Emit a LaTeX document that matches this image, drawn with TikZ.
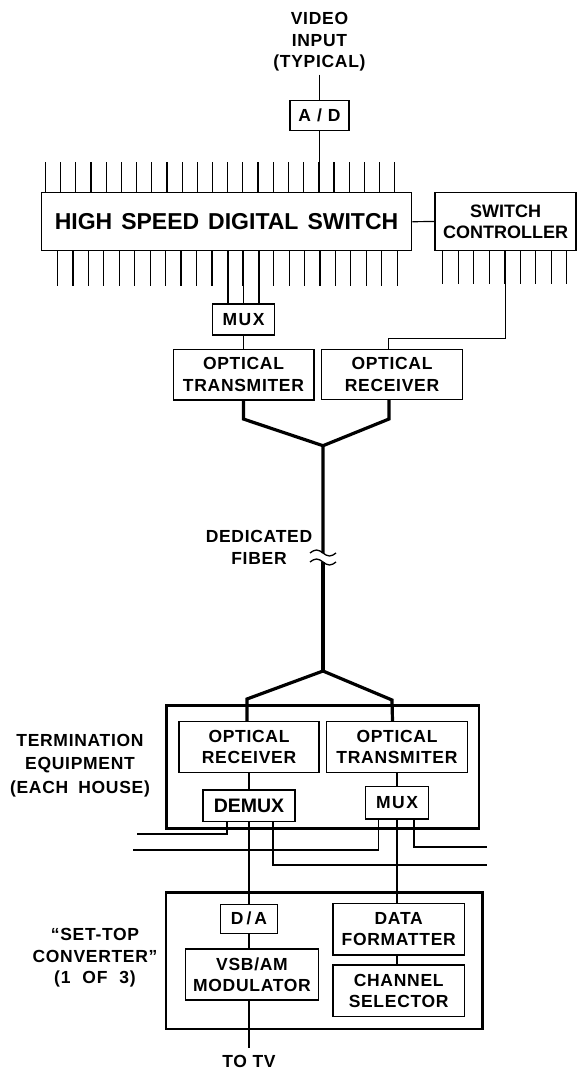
\documentclass[tikz,border=0pt]{standalone}
\usepackage{fontspec}
\setmainfont{Liberation Sans}[LetterSpace=4]
\usepackage{tikz}
\usetikzlibrary{calc}

\newcommand\boxfont{\bfseries\fontsize{17.5}{21.5}\selectfont}
\newcommand\termfont{\bfseries\fontsize{17.5}{23.3}\selectfont}
\newcommand\swfont{\bfseries\fontsize{23}{27}\selectfont\addfontfeature{LetterSpace=0}}
\newcommand\ctlfont{\bfseries\fontsize{18}{21.3}\selectfont\addfontfeature{LetterSpace=0}}
\newcommand\dmxfont{\bfseries\fontsize{19.5}{23}\selectfont\addfontfeature{LetterSpace=0}}

\begin{document}
\begin{tikzpicture}[x=1pt, y=-1pt,
  box/.style={draw, line width=1.4pt, inner sep=0pt, align=center, font=\boxfont},
  outer/.style={draw, line width=2.8pt, inner sep=0pt},
  lbl/.style={align=center, font=\boxfont, inner sep=1pt},
  wire/.style={line width=1.2pt},
  fiber/.style={line width=3.2pt, line join=miter}]
\useasboundingbox (0,0) rectangle (578,1070);
% head end
\node[lbl, inner ysep=3pt] (vin) at (319.5,42) {VIDEO\\INPUT\\(TYPICAL)};
\node[box, minimum width=59pt, minimum height=30pt] (ad) at (319.5,115.7) {A\hspace{6pt}/\hspace{6pt}D};
\node[box, minimum width=370.3pt, minimum height=58pt, font=\swfont] (sw) at (226.5,221.7)
  {HIGH\hspace{9pt}SPEED\hspace{9pt}DIGITAL\hspace{9pt}SWITCH};
\node[box, minimum width=141pt, minimum height=58pt, font=\ctlfont] (ctl) at (505.5,221.5) {SWITCH\\CONTROLLER};
\node[box, minimum width=61.6pt, minimum height=31pt] (muxa) at (243.5,319.5) {M\hspace{1.5pt}U\hspace{1.5pt}X};
\node[box, minimum width=140.6pt, minimum height=50.7pt] (otxa) at (243.5,374.7) {OPTICAL\\TRANSMITER};
\node[box, minimum width=140.6pt, minimum height=50pt] (orxa) at (392,374.3) {OPTICAL\\RECEIVER};
% fiber
\coordinate (fy) at (323,445.7);
\coordinate (fb1) at (323,553);
\coordinate (fb2) at (323,562);
\coordinate (fa) at (323,671);
\node[lbl] (fib) at (259,547.5) {DEDICATED\\FIBER};
% termination equipment
\node[outer, minimum width=312.8pt, minimum height=122.6pt] (term) at (322.6,767) {};
\node[box, minimum width=140pt, minimum height=50.6pt] (orxb) at (249,747) {OPTICAL\\RECEIVER};
\node[box, minimum width=140.7pt, minimum height=50.6pt] (otxb) at (397,747) {OPTICAL\\TRANSMITER};
\node[box, minimum width=92.3pt, minimum height=31.7pt, font=\dmxfont] (demux) at (249,805.8) {DEMUX};
\node[box, minimum width=62.8pt, minimum height=32.3pt] (muxb) at (397,802.8) {M\hspace{1.5pt}U\hspace{1.5pt}X};
\node[lbl, font=\termfont] (tlbl) at (80,765.5) {TERMINATION\\EQUIPMENT\\(EACH\hspace{10pt}HOUSE)};
\coordinate (l1) at (136.6,834);
\coordinate (l2) at (133,850);
\coordinate (r1) at (486.7,847);
\coordinate (r2) at (486.7,865);
% set-top converter
\node[outer, minimum width=316.6pt, minimum height=136.7pt] (stc) at (324.3,960.7) {};
\node[box, minimum width=57.2pt, minimum height=29pt] (da) at (249,918.8) {D\hspace{3pt}/\hspace{3pt}A};
\node[box, minimum width=132.6pt, minimum height=51pt] (vsb) at (252,974.5) {VSB/AM\\MODULATOR};
\node[box, minimum width=131.5pt, minimum height=51.7pt] (fmt) at (398.7,929.2) {DATA\\FORMATTER};
\node[box, minimum width=131.5pt, minimum height=51.7pt] (chs) at (398.7,990.8) {CHANNEL\\SELECTOR};
\node[lbl] (slbl) at (95,958) {“SET-TOP\\CONVERTER”\\(1\hspace{12pt}OF\hspace{12pt}3)};
\node[lbl] (tv) at (249,1061) {TO TV};

% switch pins
\foreach \i in {0,...,23}
  \draw[wire] ([xshift={(4.85+15.18*\i)*1pt}]sw.north west) -- ++(0,-30.4);
\foreach \i in {0,...,22}
  \draw[wire] ([xshift={(16.85+15.44*\i)*1pt}]sw.south west) -- ++(0,34.3);
\foreach \i in {0,...,8}
  \draw[wire] ([xshift={(8.5+15.5*\i)*1pt}]ctl.south west) -- ++(0,33);
\draw[wire] (vin.south) -- (ad.north);
\draw[wire] (ad.south) -- (ad.south |- sw.north);
\draw[wire] (sw.east) -- (ctl.west);
\foreach \dx in {-15.44,0,15.44}
  \draw[wire] ([xshift=\dx pt]muxa.north) -- ([xshift=\dx pt]muxa.north |- sw.south);
\draw[wire] (muxa) -- (otxa);
\draw[wire] (ctl.south) -- ++(0,87.2) -| ([xshift=-3.5pt]orxa.north);
% fiber link
\draw[fiber] (otxa.south) -- ++(0,18.3) -- (fy) -- (fb1);
\draw[fiber] ([xshift=-3pt]orxa.south) -- ++(0,19) -- (fy);
\draw[wire, line width=1.3pt] ($(fb1)+(-13,0)$) sin ++(6.5,-3) cos ++(6.5,3) sin ++(6.5,3) cos ++(6.5,-3);
\draw[wire, line width=1.3pt] ($(fb2)+(-13,0)$) sin ++(6.5,-3) cos ++(6.5,3) sin ++(6.5,3) cos ++(6.5,-3);
\draw[fiber] (fb2) -- (fa);
\draw[fiber] ([xshift=-2pt]orxb.north) -- ++(0,-22) -- (fa) -- ++(69,29) -- ([xshift=-4.5pt]otxb.north);
% house side
\draw[wire] (orxb) -- (demux);
\draw[wire] (otxb) -- (muxb);
\draw[wire] ([xshift=-22pt]demux.south) |- (l1);
\draw[wire] ([xshift=-18.5pt]muxb.south) |- (l2);
\draw[wire] ([xshift=17pt]muxb.south) |- (r1);
\draw[wire] ([xshift=24pt]demux.south) |- (r2);
\draw[wire] (demux.south) -- (da.north);
\draw[wire] (da.south) -- (da.south |- vsb.north);
\draw[wire, shorten >=6pt] (vsb.south -| da.south) -- (tv.north);
\draw[wire] (muxb.south) -- (muxb.south |- fmt.north);
\draw[wire] (fmt.south -| muxb.south) -- (chs.north -| muxb.south);
\end{tikzpicture}
\end{document}
